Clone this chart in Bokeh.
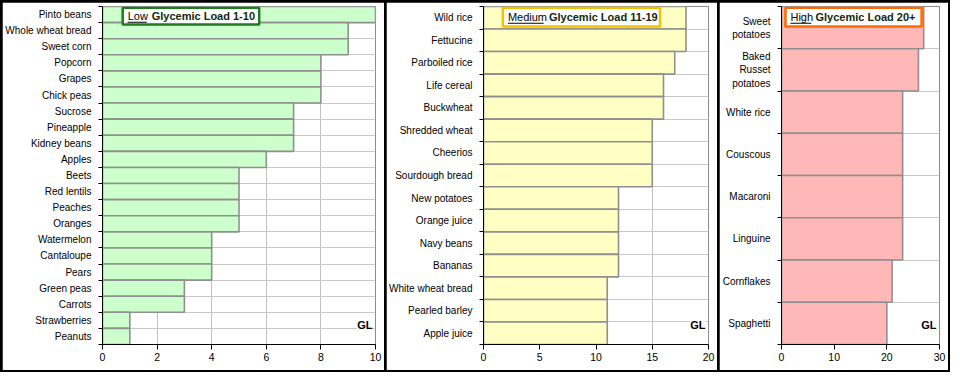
from bokeh.plotting import figure
from bokeh.models import Range1d, FixedTicker, BoxAnnotation, Label
from bokeh.layouts import row
from bokeh.embed import file_html
from bokeh.resources import INLINE

# ---- data (top to bottom) ----
low_foods = ["Pinto beans", "Whole wheat bread", "Sweet corn", "Popcorn", "Grapes",
             "Chick peas", "Sucrose", "Pineapple", "Kidney beans", "Apples", "Beets",
             "Red lentils", "Peaches", "Oranges", "Watermelon", "Cantaloupe", "Pears",
             "Green peas", "Carrots", "Strawberries", "Peanuts"]
low_gl = [10, 9, 9, 8, 8, 8, 7, 7, 7, 6, 5, 5, 5, 5, 4, 4, 4, 3, 3, 1, 1]

med_foods = ["Wild rice", "Fettucine", "Parboiled rice", "Life cereal", "Buckwheat",
             "Shredded wheat", "Cheerios", "Sourdough bread", "New potatoes",
             "Orange juice", "Navy beans", "Bananas", "White wheat bread",
             "Pearled barley", "Apple juice"]
med_gl = [18, 18, 17, 16, 16, 15, 15, 15, 12, 12, 12, 12, 11, 11, 11]

high_foods = ["Sweet\npotatoes", "Baked\nRusset\npotatoes", "White rice", "Couscous",
              "Macaroni", "Linguine", "Cornflakes", "Spaghetti"]
high_gl = [27, 26, 23, 23, 23, 23, 21, 20]

low_ticks = [0, 2, 4, 6, 8, 10]
med_ticks = [0, 5, 10, 15, 20]
high_ticks = [0, 10, 20, 30]

FONT = "Liberation Sans"
H = 368
TOP, BOTTOM, RIGHT = 4, 26, 9


def make_panel(foods, values, ticks, fill, width, left, word, rest, box_color,
               box_px, word_w):
    n = len(foods)
    xmax = ticks[-1]
    fw = width - left - RIGHT
    fh = H - TOP - BOTTOM
    sx = xmax / fw
    sy = n / fh

    p = figure(width=width, height=H, output_backend="svg", toolbar_location=None,
               x_range=Range1d(0, xmax), y_range=Range1d(0, n),
               min_border_left=left, min_border_right=RIGHT,
               min_border_top=TOP, min_border_bottom=BOTTOM,
               background_fill_color="white", border_fill_color="white")
    p.outline_line_color = "#8c8c8c"
    p.outline_line_width = 1

    ys = [n - i - 0.5 for i in range(n)]
    p.hbar(y=ys, right=values, left=0, height=1, fill_color=fill,
           line_color="#8f8f8f", line_width=1.6)

    # x axis
    xa = p.xaxis[0]
    xa.ticker = FixedTicker(ticks=ticks, minor_ticks=[])
    xa.axis_line_color = "black"
    xa.major_tick_line_color = "black"
    xa.major_tick_out = 5
    xa.major_tick_in = 0
    xa.minor_tick_line_color = None
    xa.major_label_standoff = 3
    xa.major_label_text_font = FONT
    xa.major_label_text_font_size = "10.5px"
    xa.major_label_text_color = "black"

    # y axis: labels at centres, ticks at boundaries
    ya = p.yaxis[0]
    ya.ticker = FixedTicker(ticks=ys, minor_ticks=list(range(n + 1)))
    ya.major_label_overrides = {y: f for y, f in zip(ys, foods)}
    ya.axis_line_color = "black"
    ya.major_tick_line_color = None
    ya.major_tick_out = 0
    ya.major_tick_in = 0
    ya.minor_tick_line_color = "black"
    ya.minor_tick_out = 4
    ya.minor_tick_in = 0
    ya.major_label_standoff = 7
    ya.major_label_text_font = FONT
    ya.major_label_text_font_size = "10px"
    ya.major_label_text_color = "black"

    # grids
    p.xgrid.ticker = FixedTicker(ticks=ticks)
    p.xgrid.grid_line_color = "#c0c0c0"
    p.ygrid.grid_line_color = None
    p.ygrid.minor_grid_line_color = "#c8c8c8"

    # title box
    bl, br, bh = box_px
    p.add_layout(BoxAnnotation(left=bl * sx, right=br * sx, top=n - 1.2 * sy,
                               bottom=n - bh * sy,
                               fill_color="white", fill_alpha=1.0,
                               line_color=box_color, line_alpha=1.0, line_width=2.5,
                               level="annotation"))
    tx = bl * sx
    ty = n - (bh / 2 + 0.6) * sy
    p.add_layout(Label(x=tx, y=ty, x_offset=5, text=word, text_font=FONT,
                       text_font_size="11px", text_baseline="middle", text_color="black"))
    p.add_layout(Label(x=tx, y=ty, x_offset=5 + word_w + 4, text=rest, text_font=FONT,
                       text_font_size="11px", text_font_style="bold",
                       text_baseline="middle", text_color="#102a10"))
    # underline of the first word
    uy = n - (bh / 2 + 6.2) * sy
    p.add_layout(BoxAnnotation(left=tx + 5 * sx, right=tx + (5 + word_w) * sx,
                               top=uy, bottom=uy - 1 * sy, fill_color="black",
                               fill_alpha=1.0, line_color=None, level="annotation"))

    # axis title "GL"
    p.add_layout(Label(x=xmax, y=0, x_offset=-3, y_offset=20, text="GL", text_font=FONT,
                       text_font_size="11px", text_font_style="bold", text_align="right",
                       text_baseline="middle", text_color="black",
                       background_fill_color="white", background_fill_alpha=1.0))
    return p


p1 = make_panel(low_foods, low_gl, low_ticks, "#ccffcc", 382, 89, "Low",
                "Glycemic Load 1-10", "#1f7a1f", (21, 163, 18), 20)
p2 = make_panel(med_foods, med_gl, med_ticks, "#ffffc4", 331, 90, "Medium",
                "Glycemic Load 11-19", "#f5c000", (20, 182, 20), 37)
p3 = make_panel(high_foods, high_gl, high_ticks, "#ffb8b8", 229, 61, "High",
                "Glycemic Load 20+", "#ff6a00", (4, 141, 20), 21)

layout = row(p1, p2, p3, spacing=2,
             styles={"border": "2px solid black", "background-color": "black"})

open("out.html", "w").write(file_html(layout, INLINE))
